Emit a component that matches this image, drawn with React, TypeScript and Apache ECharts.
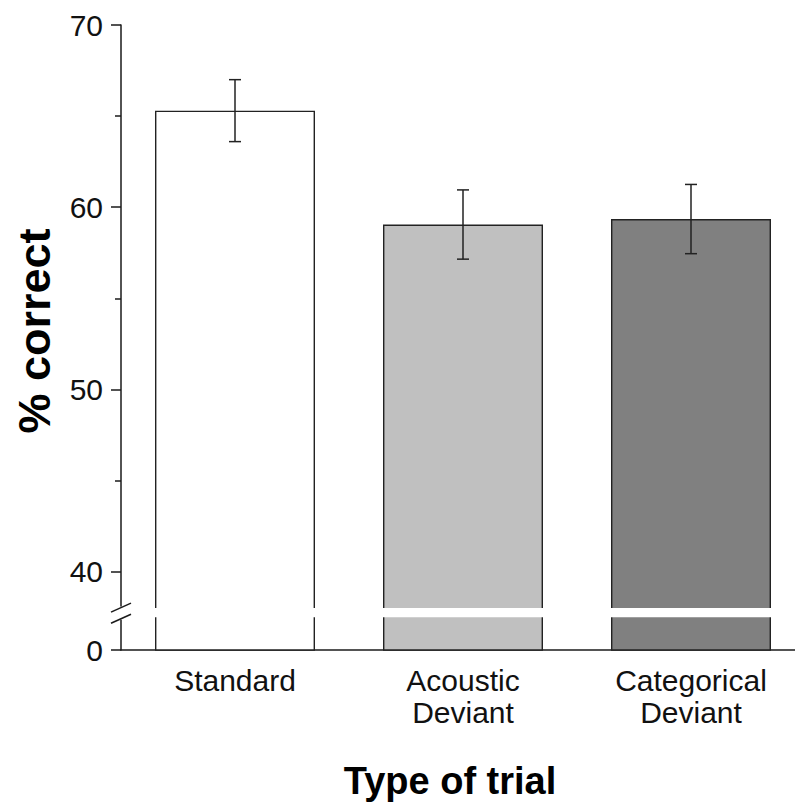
import React, { useEffect, useRef } from "react";
import * as echarts from "echarts";

const CATEGORIES = ["Standard", "Acoustic\nDeviant", "Categorical\nDeviant"];
const MEANS = [65.3, 59.05, 59.35];
const SE = [1.7, 1.9, 1.9];
const BAR_COLORS = ["#ffffff", "#c0c0c0", "#808080"];
const AXIS_MIN = 35.7; // displayed as "0" (broken axis)
const MAJOR_TICKS = [AXIS_MIN, 40, 50, 60, 70];
const MINOR_TICKS = [45, 55, 65];
const BREAK_TOP = 38.0;
const BREAK_BOTTOM = 37.5;
const X_TITLE = "Type of trial";
const Y_TITLE = "% correct";

const FONT = "'Liberation Sans', Arial, Helvetica, sans-serif";

export default function App() {
  const ref = useRef<HTMLDivElement>(null);
  useEffect(() => {
    if (!ref.current) return;
    const chart = echarts.init(ref.current, null, { renderer: "svg" });
    const axisColor = "#1a1a1a";
    chart.setOption({
      animation: false,
      backgroundColor: "#ffffff",
      grid: { left: 121, top: 25, width: 684, height: 625 },
      xAxis: {
        type: "category",
        data: CATEGORIES,
        boundaryGap: true,
        axisLine: { lineStyle: { color: axisColor, width: 1.5 } },
        axisTick: { alignWithLabel: true, length: 11, lineStyle: { color: axisColor, width: 1.5 } },
        axisLabel: {
          color: "#111",
          fontSize: 30,
          fontFamily: FONT,
          margin: 14,
          lineHeight: 32,
          interval: 0,
        },
        splitLine: { show: false },
      },
      yAxis: [
        {
          type: "value",
          min: AXIS_MIN,
          max: 70,
          axisLine: { show: true, lineStyle: { color: axisColor, width: 1.5 } },
          axisTick: {
            show: true,
            length: 10,
            customValues: MAJOR_TICKS,
            lineStyle: { color: axisColor, width: 1.5 },
          },
          axisLabel: {
            customValues: MAJOR_TICKS,
            fontSize: 30,
            fontFamily: FONT,
            color: "#111",
            margin: 18,
            formatter: (v: number) => (Math.abs(v - AXIS_MIN) < 1e-6 ? "0" : String(v)),
          },
          splitLine: { show: false },
        },
        {
          type: "value",
          min: AXIS_MIN,
          max: 70,
          position: "left",
          axisLine: { show: false },
          axisTick: { show: true, length: 6, customValues: MINOR_TICKS, lineStyle: { color: axisColor, width: 1.5 } },
          axisLabel: { show: false },
          splitLine: { show: false },
        },
      ],
      series: [
        {
          type: "bar",
          data: MEANS.map((v, i) => ({ value: v, itemStyle: { color: BAR_COLORS[i] } })),
          barWidth: 160,
          itemStyle: { borderColor: "#222", borderWidth: 1.4 },
          z: 2,
        },
        {
          type: "custom",
          data: MEANS.map((m, i) => [i, m - SE[i], m + SE[i]]),
          z: 5,
          renderItem: (params: any, api: any) => {
            const x = api.value(0);
            const p1 = api.coord([x, api.value(2)]);
            const p2 = api.coord([x, api.value(1)]);
            const w = 6;
            const st = { stroke: "#222", lineWidth: 1.5 };
            return {
              type: "group",
              children: [
                { type: "line", shape: { x1: p1[0], y1: p1[1], x2: p2[0], y2: p2[1] }, style: st },
                { type: "line", shape: { x1: p1[0] - w, y1: p1[1], x2: p1[0] + w, y2: p1[1] }, style: st },
                { type: "line", shape: { x1: p2[0] - w, y1: p2[1], x2: p2[0] + w, y2: p2[1] }, style: st },
              ],
            };
          },
        },
      ],
    });

    const yTop = chart.convertToPixel({ yAxisIndex: 0 }, BREAK_TOP) as number;
    const yBot = chart.convertToPixel({ yAxisIndex: 0 }, BREAK_BOTTOM) as number;
    const axisX = 121;
    chart.setOption({
      graphic: [
        { type: "rect", z: 100, shape: { x: axisX + 6, y: yTop, width: 800, height: yBot - yTop }, style: { fill: "#fff" } },
        { type: "rect", z: 100, shape: { x: axisX - 5, y: yTop - 1.5, width: 11, height: yBot - yTop + 4 }, style: { fill: "#fff" } },
        { type: "line", z: 101, shape: { x1: axisX - 10, y1: yTop + 4, x2: axisX + 10, y2: yTop - 5 }, style: { stroke: axisColor, lineWidth: 1.5 } },
        { type: "line", z: 101, shape: { x1: axisX - 10, y1: yBot + 6, x2: axisX + 10, y2: yBot - 3 }, style: { stroke: axisColor, lineWidth: 1.5 } },
        {
          type: "text",
          z: 50,
          x: 450,
          y: 781,
          style: {
            text: X_TITLE,
            fontSize: 38,
            fontWeight: "bold",
            fontFamily: FONT,
            fill: "#000",
            align: "center",
            verticalAlign: "middle",
          },
        },
        {
          type: "text",
          z: 50,
          x: 34,
          y: 331,
          rotation: Math.PI / 2,
          style: {
            text: Y_TITLE,
            fontSize: 45,
            fontWeight: "bold",
            fontFamily: FONT,
            fill: "#000",
            align: "center",
            verticalAlign: "middle",
          },
        },
      ],
    });
    return () => chart.dispose();
  }, []);
  return (
    <div
      style={{ position: "absolute", left: 0, top: 0, width: 795, height: 810, overflow: "hidden", background: "#fff" }}
    >
      <div ref={ref} style={{ width: 830, height: 810 }} />
    </div>
  );
}
